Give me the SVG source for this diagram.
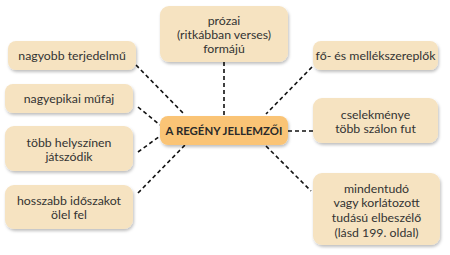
<svg xmlns="http://www.w3.org/2000/svg" width="450" height="255" viewBox="0 0 450 255">
  <defs>
    <filter id="shadow" x="-10%" y="-20%" width="125%" height="150%">
      <feDropShadow dx="1" dy="2" stdDeviation="1.8" flood-color="#000" flood-opacity="0.25"/>
    </filter>
  </defs>
  <style>
    .box { fill: #F6E3C1; filter: url(#shadow); }
    .hub { fill: #FAC476; filter: url(#shadow); }
    .lbl { font-family: Lato, "Open Sans", sans-serif; font-size: 12.300px; fill: #333; text-anchor: middle; }
    .hubtxt { font-family: Lato, "Open Sans", sans-serif; font-size: 11.400px; font-weight: bold; fill: #2a2a2a; text-anchor: middle; }
    .link { stroke: #111; stroke-width: 1.6; stroke-dasharray: 4 3; fill: none; }
  </style>

  <!-- dashed connectors from the central node -->
  <g id="connectors">
    <line class="link" x1="224" y1="62" x2="224" y2="116"/>
    <line class="link" x1="136" y1="65" x2="184" y2="114"/>
    <line class="link" x1="138" y1="107" x2="160" y2="125"/>
    <line class="link" x1="138" y1="152" x2="160" y2="136"/>
    <line class="link" x1="138" y1="193" x2="185" y2="145"/>
    <line class="link" x1="312" y1="67" x2="266" y2="114"/>
    <line class="link" x1="288" y1="131" x2="313" y2="131"/>
    <line class="link" x1="266" y1="146" x2="311" y2="191"/>
  </g>

  <g id="hub">
    <rect class="hub" x="160" y="116" width="128" height="29" rx="8"/>
    <text class="hubtxt" x="224" y="135">A REGÉNY JELLEMZŐI</text>
  </g>

  <g id="form">
    <rect class="box" x="160" y="6" width="128" height="56" rx="9"/>
    <text class="lbl" x="224" y="25">prózai</text>
    <text class="lbl" x="224" y="39">(ritkábban verses)</text>
    <text class="lbl" x="224" y="53">formájú</text>
  </g>

  <g id="length">
    <rect class="box" x="8" y="41" width="128" height="29" rx="8"/>
    <text class="lbl" x="72" y="60">nagyobb terjedelmű</text>
  </g>

  <g id="genre">
    <rect class="box" x="5" y="84" width="128" height="29" rx="8"/>
    <text class="lbl" x="69" y="103">nagyepikai műfaj</text>
  </g>

  <g id="places">
    <rect class="box" x="5" y="126" width="128" height="45" rx="9"/>
    <text class="lbl" x="69" y="147">több helyszínen</text>
    <text class="lbl" x="69" y="161">játszódik</text>
  </g>

  <g id="time">
    <rect class="box" x="5" y="185" width="128" height="44" rx="9"/>
    <text class="lbl" x="69" y="205">hosszabb időszakot</text>
    <text class="lbl" x="69" y="219">ölel fel</text>
  </g>

  <g id="characters">
    <rect class="box" x="313" y="41" width="125" height="29" rx="8"/>
    <text class="lbl" x="375.500" y="60">fő- és mellékszereplők</text>
  </g>

  <g id="plot">
    <rect class="box" x="313" y="98" width="125" height="45" rx="9"/>
    <text class="lbl" x="375.500" y="119">cselekménye</text>
    <text class="lbl" x="375.500" y="133">több szálon fut</text>
  </g>

  <g id="narrator">
    <rect class="box" x="313" y="173" width="127" height="72" rx="9"/>
    <text class="lbl" x="376.500" y="193">mindentudó</text>
    <text class="lbl" x="376.500" y="207">vagy korlátozott</text>
    <text class="lbl" x="376.500" y="222">tudású elbeszélő</text>
    <text class="lbl" x="376.500" y="237">(lásd 199. oldal)</text>
  </g>
</svg>
